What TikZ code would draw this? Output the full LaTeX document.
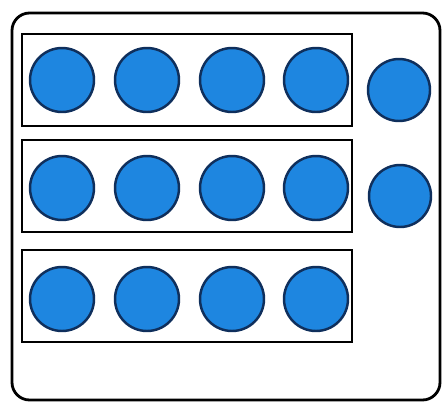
\documentclass[tikz,border=0pt]{standalone}
\usetikzlibrary{positioning}
\definecolor{dotblue}{HTML}{1E86E0}
\definecolor{dotedge}{HTML}{0F2F5C}

\begin{document}
\begin{tikzpicture}[
    x=0.02cm, y=-0.02cm,
    dot/.style={circle, draw=dotedge, line width=1.4pt, fill=dotblue,
                minimum size=1.28cm, inner sep=0pt},
    rowbox/.style={draw, line width=1.1pt, minimum width=6.6cm,
                   minimum height=1.84cm, inner sep=0pt}
  ]
  \useasboundingbox (0,0) rectangle (448,406);
  \fill[white] (0,0) rectangle (448,406);
  \draw[line width=1.6pt, rounded corners=10pt] (12,13) rectangle (440,400);

  % three frames of four
  \node[rowbox] (row1) at (187,80) {};
  \node[rowbox] (row2) at (187,186) {};
  \node[rowbox] (row3) at (187,296) {};

  \foreach \r/\y in {1/80, 2/188, 3/299} {
    \foreach \c/\x in {1/62, 2/147, 3/232, 4/316} {
      \node[dot] (d\r\c) at (\x,\y) {};
    }
  }

  % two loose ones
  \node[dot, minimum size=1.24cm] (x1) at (399,90) {};
  \node[dot, minimum size=1.24cm] (x2) at (400,196) {};
\end{tikzpicture}
\end{document}
